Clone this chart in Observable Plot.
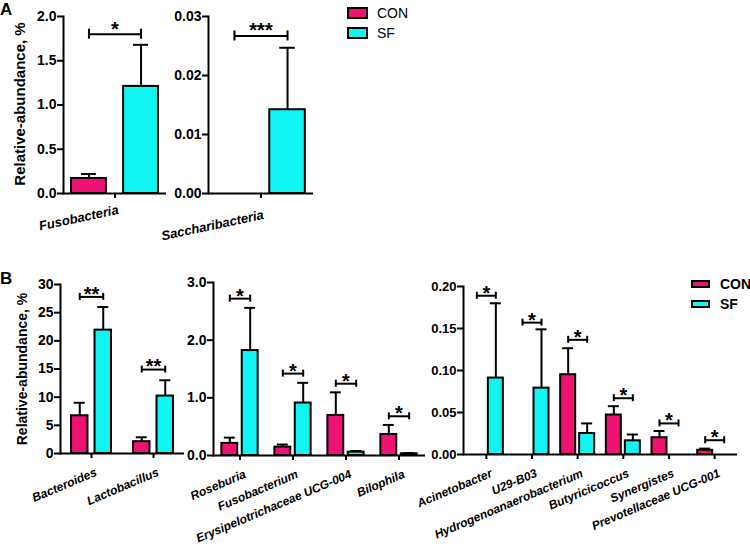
<!DOCTYPE html>
<html><head><meta charset="utf-8">
<script src="https://cdn.jsdelivr.net/npm/d3@7"></script>
<script src="https://cdn.jsdelivr.net/npm/@observablehq/plot@0.6"></script>
<style>
body{margin:0;background:#fff;}
#wrap{position:relative;width:750px;height:552px;background:#fff;overflow:hidden;font-family:"Liberation Sans",Arial,sans-serif;color:#000;}
#wrap > svg{position:absolute;overflow:visible;max-width:none;}
.ylab{position:absolute;transform:translate(-50%,-50%) rotate(-90deg);white-space:nowrap;font-weight:bold;}
.letter{position:absolute;font-weight:bold;line-height:1;}
.leg{position:absolute;display:flex;align-items:center;line-height:1;}
.sw{box-sizing:border-box;border:2px solid #000;}
.xlab{position:absolute;white-space:nowrap;line-height:1;font-weight:bold;font-style:italic;transform-origin:100% 0;}
</style></head><body><div id="wrap"></div>
<script>
const FONT = '"Liberation Sans", Arial, sans-serif';
const series = ["CON", "SF"];
const seriesColors = ["#EE1272", "#10F4F2"];

// Panel A (phylum)
const a1Groups = ["Fusobacteria"];
const a1Con = [0.17];   const a1ConErr = [0.05];
const a1Sf = [1.21];    const a1SfErr = [0.47];
const a1Sig = ["*"];    const a1SigY = [1.80];
const a1Ticks = [0, 0.5, 1.0, 1.5, 2.0];

const a2Groups = ["Saccharibacteria"];
const a2Con = [0];      const a2ConErr = [0];
const a2Sf = [0.0142];  const a2SfErr = [0.0105];
const a2Sig = ["***"];  const a2SigY = [0.0267];
const a2Ticks = [0, 0.01, 0.02, 0.03];

// Panel B (genus)
const b1Groups = ["Bacteroides", "Lactobacillus"];
const b1Con = [6.7, 2.1];    const b1ConErr = [2.3, 0.78];
const b1Sf = [21.9, 10.2];   const b1SfErr = [4.1, 2.8];
const b1Sig = ["**", "**"];  const b1SigY = [27.8, 14.9];
const b1Ticks = [0, 5, 10, 15, 20, 25, 30];

const b2Groups = ["Roseburia", "Fusobacterium", "Erysipelotrichaceae UCG-004", "Bilophila"];
const b2Con = [0.21, 0.145, 0.695, 0.365];  const b2ConErr = [0.1, 0.045, 0.40, 0.165];
const b2Sf = [1.82, 0.91, 0.058, 0.03];     const b2SfErr = [0.74, 0.35, 0.02, 0.01];
const b2Sig = ["*", "*", "*", "*"];         const b2SigY = [2.72, 1.42, 1.245, 0.68];
const b2Ticks = [0, 1.0, 2.0, 3.0];

const b3Groups = ["Acinetobacter", "U29-B03", "Hydrogenoanaerobacterium", "Butyricicoccus", "Synergistes", "Prevotellaceae UCG-001"];
const b3Con = [0, 0, 0.095, 0.047, 0.020, 0.005];     const b3ConErr = [0, 0, 0.0315, 0.0105, 0.008, 0.002];
const b3Sf = [0.091, 0.079, 0.025, 0.0163, 0, 0];     const b3SfErr = [0.089, 0.07, 0.012, 0.0075, 0, 0];
const b3Sig = ["*", "*", "*", "*", "*", "*"];         const b3SigY = [0.189, 0.157, 0.1365, 0.067, 0.037, 0.017];
const b3Ticks = [0, 0.05, 0.10, 0.15, 0.20];

const yLabel = "Relative-abundance, %";
const wrap = document.getElementById("wrap");

function addDiv(cls, text, style) {
  const d = document.createElement("div");
  d.className = cls;
  if (text != null) d.textContent = text;
  Object.assign(d.style, style);
  wrap.appendChild(d);
  return d;
}

function panel(c) {
  const rows = [];
  c.groups.forEach((g, i) => {
    rows.push({group: g, series: "CON", value: c.con[i], err: c.conErr[i]});
    rows.push({group: g, series: "SF", value: c.sf[i], err: c.sfErr[i]});
  });
  const shown = rows.filter(d => d.value > 0);
  const errs = shown.filter(d => d.err > 0);
  const sig = c.groups.map((g, i) => ({group: g, y: c.sigY[i], label: c.sig[i]}));
  const sigEnds = sig.flatMap(d => series.map(s => ({...d, series: s})));
  const svg = Plot.plot({
    width: c.width, height: c.height,
    marginLeft: c.ml, marginRight: 0, marginTop: c.mt, marginBottom: c.mb,
    style: {background: "transparent", fontFamily: FONT, color: "#000"},
    fx: {domain: c.groups, padding: 0, round: false},
    x: {domain: series, paddingInner: c.pi, paddingOuter: c.po, round: false, axis: null},
    y: {domain: [0, c.yTicks[c.yTicks.length - 1]], nice: false},
    color: {domain: series, range: seriesColors},
    marks: [
      Plot.barY(shown, {fx: "group", x: "series", y: "value", fill: "series", stroke: "#000", strokeWidth: 2}),
      Plot.ruleX(errs, {fx: "group", x: "series", y1: "value", y2: d => d.value + d.err, stroke: "#000", strokeWidth: 2}),
      Plot.tickY(errs, {fx: "group", x: "series", y: d => d.value + d.err, stroke: "#000", strokeWidth: 2, insetLeft: c.capInset, insetRight: c.capInset}),
      Plot.ruleY([0], {stroke: "#000", strokeWidth: 2}),
      Plot.frame({anchor: "left", facetAnchor: "left", stroke: "#000", strokeWidth: 2}),
      Plot.link(sig, {fx: "group", x1: () => "CON", x2: () => "SF", y1: "y", y2: "y", stroke: "#000", strokeWidth: 2}),
      Plot.ruleX(sigEnds, {fx: "group", x: "series", y1: "y", y2: "y", insetTop: -c.bracketCap, insetBottom: -c.bracketCap, stroke: "#000", strokeWidth: 2}),
      Plot.text(sig, {fx: "group", y: "y", text: "label", dy: c.starDy, fontSize: 20, fontWeight: "bold"}),
      Plot.axisY({ticks: c.yTicks, tickFormat: d3.format(c.fmt), tickSize: 6, tickPadding: 1, strokeWidth: 2, fontSize: c.yFont, fontWeight: "bold", label: null}),
      Plot.axisFx({anchor: "bottom", tickSize: 5, tickFormat: () => "", strokeWidth: 2, label: null})
    ]
  });
  svg.style.left = c.left + "px";
  svg.style.top = c.top + "px";
  wrap.appendChild(svg);

  // rotated category labels, placed from the plot's own fx scale
  let fxStart, bw;
  try {
    const fx = svg.scale("fx");
    fxStart = g => fx.apply(g);
    bw = fx.bandwidth;
  } catch (e) {
    bw = (c.width - c.ml) / c.groups.length;
    fxStart = g => c.ml + c.groups.indexOf(g) * bw;
  }
  const baseY = c.top + c.height - c.mb + 5 + c.xPad - 2;
  c.groups.forEach(g => {
    const x = c.left + fxStart(g) + bw / 2 + c.xDx;
    addDiv("xlab", g, {right: (750 - x) + "px", top: baseY + "px", fontSize: c.xFont + "px", transform: `rotate(${c.rot}deg)`});
  });
}

panel({groups: a1Groups, con: a1Con, conErr: a1ConErr, sf: a1Sf, sfErr: a1SfErr, sig: a1Sig, sigY: a1SigY, yTicks: a1Ticks, fmt: ".1f",
  left: 0, top: 0, width: 166, height: 250, ml: 63, mt: 16, mb: 57, pi: 0.33, po: 0.154, capInset: 10, bracketCap: 5, starDy: -5,
  yFont: 14, xFont: 13, rot: -12, xPad: 7, xDx: 2});
panel({groups: a2Groups, con: a2Con, conErr: a2ConErr, sf: a2Sf, sfErr: a2SfErr, sig: a2Sig, sigY: a2SigY, yTicks: a2Ticks, fmt: ".2f",
  left: 150, top: 0, width: 163, height: 250, ml: 58, mt: 16, mb: 57, pi: 0.33, po: 0.154, capInset: 10, bracketCap: 5, starDy: -5,
  yFont: 14, xFont: 13, rot: -12, xPad: 12, xDx: 2});
panel({groups: b1Groups, con: b1Con, conErr: b1ConErr, sf: b1Sf, sfErr: b1SfErr, sig: b1Sig, sigY: b1SigY, yTicks: b1Ticks, fmt: "d",
  left: 0, top: 270, width: 184, height: 282, ml: 60, mt: 14, mb: 99, pi: 0.3, po: 0.47, capInset: 2.7, bracketCap: 3.5, starDy: -2.5,
  yFont: 14, xFont: 12, rot: -23, xPad: 10, xDx: 3});
panel({groups: b2Groups, con: b2Con, conErr: b2ConErr, sf: b2Sf, sfErr: b2SfErr, sig: b2Sig, sigY: b2SigY, yTicks: b2Ticks, fmt: ".1f",
  left: 180, top: 270, width: 245, height: 282, ml: 33, mt: 12, mb: 97, pi: 0.22, po: 0.41, capInset: 2.5, bracketCap: 3.5, starDy: -2.5,
  yFont: 14, xFont: 12, rot: -23, xPad: 10, xDx: 3});
panel({groups: b3Groups, con: b3Con, conErr: b3ConErr, sf: b3Sf, sfErr: b3SfErr, sig: b3Sig, sigY: b3SigY, yTicks: b3Ticks, fmt: ".2f",
  left: 400, top: 270, width: 337, height: 282, ml: 63, mt: 16, mb: 98, pi: 0.21, po: 0.307, capInset: 2, bracketCap: 3.5, starDy: -2.5,
  yFont: 13, xFont: 12, rot: -23, xPad: 10, xDx: 3});

addDiv("ylab", yLabel, {left: "19px", top: "104px", fontSize: "15px"});
addDiv("ylab", yLabel, {left: "22px", top: "369px", fontSize: "14px"});
addDiv("letter", "A", {left: "0px", top: "1px", fontSize: "17px"});
addDiv("letter", "B", {left: "0px", top: "270px", fontSize: "17px"});

const color = Plot.scale({color: {domain: series, range: seriesColors}});
function legend(x, y, gap, sw, sh, fs, fw, tx) {
  series.forEach((s, i) => {
    const row = addDiv("leg", null, {left: x + "px", top: (y + i * gap) + "px", height: sh + "px", fontSize: fs + "px", fontWeight: fw});
    const box = document.createElement("div");
    box.className = "sw";
    Object.assign(box.style, {width: sw + "px", height: sh + "px", background: color.apply(s), marginRight: tx + "px"});
    row.appendChild(box);
    const t = document.createElement("span");
    t.textContent = s;
    row.appendChild(t);
  });
}
legend(347, 7, 20, 21, 12, 14, "normal", 9);
legend(691, 280, 20, 19, 8, 14, "bold", 10);
</script></body></html>
